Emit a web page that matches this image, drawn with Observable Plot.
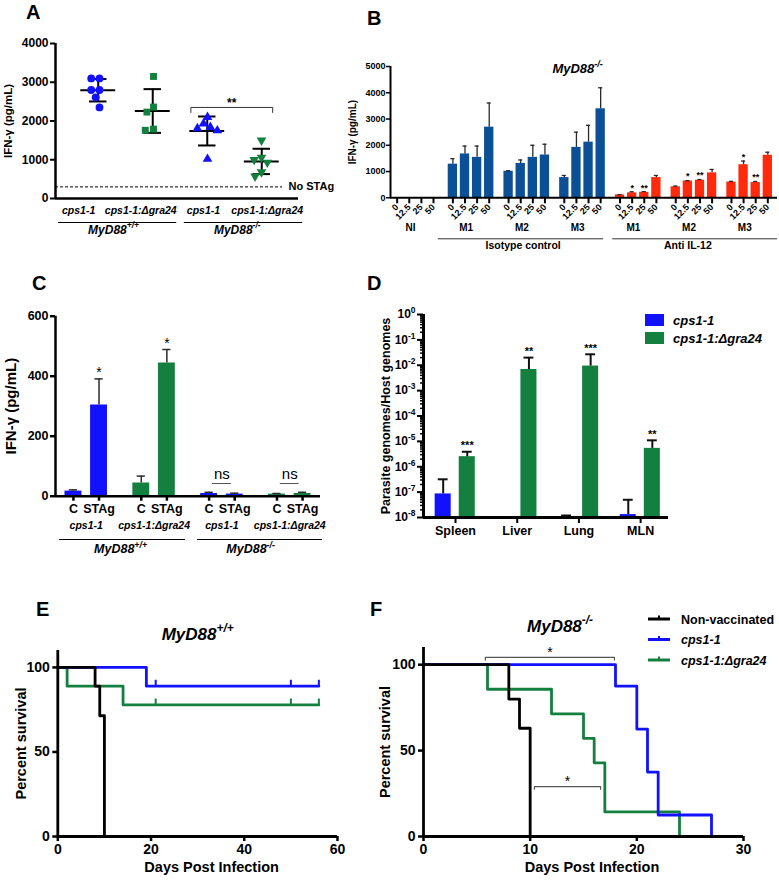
<!DOCTYPE html>
<html>
<head>
<meta charset="utf-8">
<script src="https://cdn.jsdelivr.net/npm/d3@7"></script>
<script src="https://cdn.jsdelivr.net/npm/@observablehq/plot@0.6"></script>
<style>
html, body { margin: 0; padding: 0; background: #fff; }
#fig { position: relative; width: 779px; height: 887px; overflow: hidden; background: #fff; }
</style>
</head>
<body>
<div id="fig"></div>
<script>
// ===================== DATA =====================
// Panel A – IFN-γ, individual mice
const aStrains = ["cps1-1", "cps1-1:Δgra24", "cps1-1", "cps1-1:Δgra24"];
const aHosts = ["MyD88+/+", "MyD88-/-"];
const aWtCps1 = [3100, 3100, 2800, 2800, 2610, 2350];
const aWtGra24 = [3150, 2360, 2230, 1790, 1760];
const aKoCps1 = [2100, 1930, 1840, 1810, 1755, 1020];
const aKoGra24 = [1500, 1060, 1000, 930, 680, 570];
const aNoStag = 300;
const aYTicks = [0, 1000, 2000, 3000, 4000];

// Panel B – IFN-γ by dose, MyD88-/-
const bDoses = ["0", "12.5", "25", "50"];
const bGroups = ["NI", "M1", "M2", "M3", "M1", "M2", "M3"];
const bTreatments = ["Isotype control", "Anti IL-12"];
const bNI = [0, 0, 0, 0];
const bNIErr = [0, 0, 0, 0];
const bIsoM1 = [1280, 1670, 1540, 2690];
const bIsoM1Err = [210, 300, 430, 920];
const bIsoM2 = [1010, 1310, 1540, 1630];
const bIsoM2Err = [20, 130, 460, 410];
const bIsoM3 = [770, 1920, 2120, 3390];
const bIsoM3Err = [80, 580, 640, 800];
const bAntiM1 = [110, 190, 210, 770];
const bAntiM1Err = [10, 40, 25, 80];
const bAntiM2 = [420, 640, 670, 950];
const bAntiM2Err = [25, 15, 25, 130];
const bAntiM3 = [600, 1260, 580, 1620];
const bAntiM3Err = [25, 140, 40, 115];
const bAntiSig = ["", "*", "**", ""];
const bYTicks = [0, 1000, 2000, 3000, 4000, 5000];
const bTitle = "MyD88-/-";

// Panel C – IFN-γ, control vs STAg
const cStrains = ["cps1-1", "cps1-1:Δgra24", "cps1-1", "cps1-1:Δgra24"];
const cHosts = ["MyD88+/+", "MyD88-/-"];
const cConditions = ["C", "STAg"];
const cControl = [17, 44, 9, 7];
const cControlErr = [4, 23, 4, 2];
const cStag = [304, 444, 7, 9];
const cStagErr = [87, 45, 3, 4];
const cSig = ["*", "*", "ns", "ns"];
const cYTicks = [0, 200, 400, 600];

// Panel D – parasite burden (log)
const dOrgans = ["Spleen", "Liver", "Lung", "MLN"];
const dCps1 = [8.5e-8, null, 1.0e-8, 1.3e-8];
const dCps1Top = [3.2e-7, null, 1.2e-8, 5.0e-8];
const dGra24 = [2.5e-6, 6.8e-3, 9.3e-3, 5.3e-6];
const dGra24Top = [3.9e-6, 2.0e-2, 2.7e-2, 1.1e-5];
const dSig = ["***", "**", "***", "**"];
const dLegend = ["cps1-1", "cps1-1:Δgra24"];

// Panel E – survival MyD88+/+
const eNonDays = [0, 8, 9, 10];
const eNonPct = [100, 88.9, 71.4, 0];
const eCps1Days = [0, 19, 56];
const eCps1Pct = [100, 88.9, 88.9];
const eGra24Days = [0, 2, 14, 56];
const eGra24Pct = [100, 88.9, 77.8, 77.8];
const eCensorDays = [21, 50, 56];
const eTitle = "MyD88+/+";

// Panel F – survival MyD88-/-
const fNonDays = [0, 8, 9, 10];
const fNonPct = [100, 80, 63, 0];
const fCps1Days = [0, 18, 20, 21, 22, 27];
const fCps1Pct = [100, 87.5, 62.5, 37.5, 12.5, 0];
const fGra24Days = [0, 6, 12, 15, 16, 17, 24];
const fGra24Pct = [100, 85.7, 71.4, 57.1, 42.9, 14.3, 0];
const fTitle = "MyD88-/-";
const fLegend = ["Non-vaccinated", "cps1-1", "cps1-1:Δgra24"];

// ===================== STYLE / HELPERS =====================
const FONT = "'Liberation Sans', Arial, Helvetica, sans-serif";
const BLUE = "#1111ff";
const GREEN = "#14803f";
const ISO_BLUE = "#0b4f96";
const ANTI_RED = "#ff2a0c";
const ERR = "#2a2a2a";
const NS = "http://www.w3.org/2000/svg";
const fig = document.getElementById("fig");

function baseStyle() {
  return {fontFamily: FONT, fontSize: "12px", fontWeight: "bold", color: "#000", background: "none", overflow: "visible"};
}
const supText = (s) => s.replace(/^(MyD88)(.+)$/, "$1^{$2}");
function supify(root) {
  root.querySelectorAll("text").forEach((t) => {
    if (t.children.length) return;
    const m = t.textContent.match(/^(.*)\^\{(.*)\}$/);
    if (!m) return;
    t.textContent = "";
    const a = document.createElementNS(NS, "tspan");
    a.textContent = m[1];
    const b = document.createElementNS(NS, "tspan");
    b.textContent = m[2];
    b.setAttribute("dy", "-0.6em");
    b.setAttribute("font-size", "70%");
    t.append(a, b);
  });
}
function place(svg, left, top) {
  svg.style.position = "absolute";
  svg.style.left = left + "px";
  svg.style.top = top + "px";
  supify(svg);
  fig.appendChild(svg);
}
// rotated axis title, centred on the frame's left edge
const yTitle = (label, dx, fontSize) =>
  Plot.text([label], {frameAnchor: "left", rotate: -90, textAnchor: "middle", dx, fontSize});

// ===================== PANEL A =====================
const aSeries = [aWtCps1, aWtGra24, aKoCps1, aKoGra24];
const aStats = aSeries.map((v, i) => ({i, mean: d3.mean(v), sd: d3.deviation(v)}));
const aLabelX = [-0.36, 0.78, 1.93, 3.1];
const aPlot = Plot.plot({
  width: 385, height: 245, marginLeft: 55, marginRight: 87, marginTop: 43, marginBottom: 47,
  style: baseStyle(),
  x: {domain: [-0.784, 3.674], axis: null},
  y: {domain: [0, 4000]},
  marks: [
    Plot.ruleY([aNoStag], {strokeDasharray: "3,2", strokeWidth: 1, insetRight: 16}),
    Plot.text(["No STAg"], {y: aNoStag, frameAnchor: "right", dx: -10, textAnchor: "start", fontSize: 11}),
    Plot.axisY({ticks: aYTicks, tickSize: 5, tickPadding: 2, strokeWidth: 2, fontSize: 12, label: null, tickFormat: (d) => String(d)}),
    Plot.ruleX([-0.784], {strokeWidth: 2.5}),
    Plot.ruleY([0], {strokeWidth: 2.5}),
    Plot.ruleX(aStats, {x: "i", y1: (d) => d.mean - d.sd, y2: (d) => d.mean + d.sd, strokeWidth: 2}),
    Plot.ruleY(aStats, {y: "mean", x1: (d) => d.i - 0.32, x2: (d) => d.i + 0.32, strokeWidth: 2}),
    Plot.ruleY(aStats, {y: (d) => d.mean + d.sd, x1: (d) => d.i - 0.16, x2: (d) => d.i + 0.16, strokeWidth: 2}),
    Plot.ruleY(aStats, {y: (d) => d.mean - d.sd, x1: (d) => d.i - 0.16, x2: (d) => d.i + 0.16, strokeWidth: 2}),
    Plot.line([[1.7, 2220], [1.7, 2350], [3.2, 2350], [3.2, 2220]], {strokeWidth: 1, stroke: "#333"}),
    Plot.text(["**"], {x: 2.45, y: 2350, dy: -4, fontSize: 12}),
    Plot.text(aStrains, {x: (d, i) => aLabelX[i], frameAnchor: "bottom", dy: 15, fontStyle: "italic", fontSize: 10.5}),
    Plot.ruleY([{x1: -0.73, x2: 1.44}, {x1: 1.58, x2: 3.75}], {y: 0, dy: 24, x1: "x1", x2: "x2", strokeWidth: 1.2}),
    Plot.text(aHosts.map(supText), {x: (d, i) => [0.28, 2.55][i], frameAnchor: "bottom", dy: 35, fontStyle: "italic", fontSize: 12}),
    yTitle("IFN-γ (pg/mL)", -47, 11.5)
  ]
});
place(aPlot, 0, 0);

const aSym = [
  {symbol: "circle", fill: BLUE, rotate: 0, r: 3.9},
  {symbol: "square", fill: GREEN, rotate: 0, r: 3.9},
  {symbol: "triangle", fill: BLUE, rotate: 0, r: 3.6},
  {symbol: "triangle", fill: GREEN, rotate: 180, r: 3.6}
];
const aDots = Plot.plot({
  width: 385, height: 245, marginLeft: 70.5, marginRight: 96.5, marginTop: 43, marginBottom: 47,
  style: baseStyle(),
  fx: {domain: [0, 1, 2, 3], padding: 0, axis: null},
  x: {axis: null},
  y: {domain: [0, 4000], axis: null},
  marks: aSeries.map((v, i) => Plot.dot(v, Plot.dodgeX({anchor: "middle", padding: 0.5},
    {fx: () => i, y: (d) => d, r: aSym[i].r, symbol: aSym[i].symbol, fill: aSym[i].fill, rotate: aSym[i].rotate})))
});
place(aDots, 0, 0);

// ===================== PANEL B =====================
const bSeries = [bNI, bIsoM1, bIsoM2, bIsoM3, bAntiM1, bAntiM2, bAntiM3];
const bErrSeries = [bNIErr, bIsoM1Err, bIsoM2Err, bIsoM3Err, bAntiM1Err, bAntiM2Err, bAntiM3Err];
const B_STRIDE = 4.6;
const bBars = bSeries.flatMap((vals, gi) => vals.map((v, di) => ({
  gi, pos: gi * B_STRIDE + di, dose: bDoses[di], value: v, err: bErrSeries[gi][di],
  anti: gi >= 4, sig: gi >= 4 ? bAntiSig[di] : ""
})));
const bErrBars = bBars.filter((d) => d.value > 0);
const bRect = (data, fill) => Plot.rect(data, {x1: (d) => d.pos - 0.385, x2: (d) => d.pos + 0.385, y1: 0, y2: "value", fill});
const bPlot = Plot.plot({
  width: 439, height: 265, marginLeft: 50, marginRight: 2, marginTop: 66, marginBottom: 67.7,
  style: baseStyle(),
  x: {domain: [-0.55, 31.4]},
  y: {domain: [0, 5000]},
  marks: [
    bRect(bBars.filter((d) => !d.anti && d.value > 0), ISO_BLUE),
    bRect(bBars.filter((d) => d.anti), ANTI_RED),
    Plot.ruleX(bErrBars, {x: "pos", y1: "value", y2: (d) => d.value + d.err, stroke: ERR, strokeWidth: 1.3}),
    Plot.ruleY(bErrBars, {y: (d) => d.value + d.err, x1: (d) => d.pos - 0.17, x2: (d) => d.pos + 0.17, stroke: ERR, strokeWidth: 1.3}),
    Plot.text(bBars.filter((d) => d.sig), {x: "pos", y: (d) => d.value + d.err, text: "sig", dy: -4, fontSize: 9}),
    Plot.axisY({ticks: bYTicks, tickSize: 4, tickPadding: 1, fontSize: 9, strokeWidth: 1.5, label: null, tickFormat: (d) => String(d)}),
    Plot.axisX({ticks: bBars.map((d) => d.pos), tickSize: 6, strokeWidth: 2, label: null, tickFormat: () => ""}),
    Plot.ruleX([-0.55], {strokeWidth: 2}),
    Plot.ruleY([0], {strokeWidth: 2}),
    Plot.text(bBars, {x: "pos", text: "dose", frameAnchor: "bottom", rotate: -45, textAnchor: "end", dx: 2, dy: 10, fontSize: 9}),
    Plot.text(bGroups, {x: (d, i) => i * B_STRIDE + 1.1, frameAnchor: "bottom", dy: 33, fontSize: 10}),
    Plot.ruleY([{x1: 3.4, x2: 17.05}, {x1: 17.8, x2: 31.4}], {y: 0, dy: 41, x1: "x1", x2: "x2", strokeWidth: 1, stroke: "#333"}),
    Plot.text(bTreatments, {x: (d, i) => [10.4, 24][i], frameAnchor: "bottom", dy: 51, fontSize: 10.5}),
    Plot.text([supText(bTitle)], {x: 14.9, frameAnchor: "top", dy: -3, fontStyle: "italic", fontSize: 13}),
    yTitle("IFN-γ (pg/mL)", -38, 10)
  ]
});
place(bPlot, 340, 0);

// ===================== PANEL C =====================
const C_STRIDE = 2.65;
const strainColor = (s) => (s === "cps1-1" ? BLUE : GREEN);
const cBars = cStrains.flatMap((s, gi) => [
  {gi, pos: gi * C_STRIDE, cond: cConditions[0], value: cControl[gi], err: cControlErr[gi], color: strainColor(s), sig: ""},
  {gi, pos: gi * C_STRIDE + 1, cond: cConditions[1], value: cStag[gi], err: cStagErr[gi], color: strainColor(s), sig: cSig[gi] === "*" ? "*" : ""}
]);
const cNs = cStrains.map((s, gi) => ({c: gi * C_STRIDE + 0.5, sig: cSig[gi]})).filter((d) => d.sig === "ns");
const cRect = (color) => Plot.rect(cBars.filter((d) => d.color === color),
  {x1: (d) => d.pos - 0.33, x2: (d) => d.pos + 0.33, y1: 0, y2: "value", fill: color});
const cPlot = Plot.plot({
  width: 385, height: 295, marginLeft: 55, marginRight: 65, marginTop: 45.7, marginBottom: 69.3,
  style: baseStyle(),
  x: {domain: [-0.7, 9.65]},
  y: {domain: [0, 600]},
  marks: [
    cRect(BLUE), cRect(GREEN),
    Plot.ruleX(cBars, {x: "pos", y1: "value", y2: (d) => d.value + d.err, stroke: ERR, strokeWidth: 1.5}),
    Plot.ruleY(cBars, {y: (d) => d.value + d.err, x1: (d) => d.pos - 0.16, x2: (d) => d.pos + 0.16, stroke: ERR, strokeWidth: 1.5}),
    Plot.text(cBars.filter((d) => d.sig), {x: "pos", y: (d) => d.value + d.err, text: "sig", dy: -6, fontSize: 14, fontWeight: "normal"}),
    Plot.text(cNs, {x: "c", y: 0, text: "sig", dy: -21.6, fontSize: 15, fontWeight: "normal"}),
    Plot.ruleY(cNs, {y: 0, dy: -12.7, x1: (d) => d.c - 0.37, x2: (d) => d.c + 0.37, stroke: "#555", strokeWidth: 1}),
    Plot.axisY({ticks: cYTicks, tickSize: 5, tickPadding: 2, fontSize: 12.5, strokeWidth: 2.5, label: null, tickFormat: (d) => String(d)}),
    Plot.axisX({ticks: cBars.map((d) => d.pos), tickSize: 5, strokeWidth: 2.5, label: null, tickFormat: () => ""}),
    Plot.ruleX([-0.7], {strokeWidth: 2.5}),
    Plot.ruleY([0], {strokeWidth: 2.5}),
    Plot.text(cBars, {x: "pos", text: "cond", frameAnchor: "bottom", dy: 16.6, fontSize: 12.5}),
    Plot.text(cStrains, {x: (d, i) => i * C_STRIDE + 0.5, frameAnchor: "bottom", dy: 32.6, fontStyle: "italic", fontSize: 10.5}),
    Plot.ruleY([{x1: -0.54, x2: 4.38}, {x1: 4.85, x2: 9.73}], {y: 0, dy: 43.3, x1: "x1", x2: "x2", strokeWidth: 1.2}),
    Plot.text(cHosts.map(supText), {x: (d, i) => [1.84, 6.92][i], frameAnchor: "bottom", dy: 57, fontStyle: "italic", fontSize: 12.5}),
    yTitle("IFN-γ (pg/mL)", -44.5, 15)
  ]
});
place(cPlot, 0, 270);

// ===================== PANEL D =====================
const dBars = dOrgans.flatMap((o, gi) => [
  dCps1[gi] == null ? null : {gi, pos: gi - 0.2, value: dCps1[gi], top: dCps1Top[gi], color: BLUE, sig: ""},
  {gi, pos: gi + 0.19, value: dGra24[gi], top: dGra24Top[gi], color: GREEN, sig: dSig[gi]}
]).filter(Boolean);
const dMajor = d3.range(-8, 1).map((e) => 10 ** e);
const dMinor = d3.range(-8, 0).flatMap((e) => d3.range(2, 10).map((m) => m * 10 ** e));
const dRect = (color) => Plot.rect(dBars.filter((d) => d.color === color),
  {x1: (d) => d.pos - 0.13, x2: (d) => d.pos + 0.13, y1: 1e-8, y2: "value", fill: color});
const dPlot = Plot.plot({
  width: 439, height: 285, marginLeft: 83, marginRight: 111, marginTop: 44, marginBottom: 38,
  style: baseStyle(),
  x: {domain: [-0.519, 3.452]},
  y: {type: "log", domain: [1e-8, 1]},
  marks: [
    dRect(BLUE), dRect(GREEN),
    Plot.ruleX(dBars, {x: "pos", y1: "value", y2: "top", stroke: "#111", strokeWidth: 2}),
    Plot.ruleY(dBars, {y: "top", x1: (d) => d.pos - 0.08, x2: (d) => d.pos + 0.08, stroke: "#111", strokeWidth: 2}),
    Plot.text(dBars.filter((d) => d.sig), {x: "pos", y: "top", text: "sig", dy: -6, fontSize: 11}),
    Plot.axisY({ticks: dMajor, tickSize: 6, tickPadding: 2, fontSize: 12, strokeWidth: 2, label: null,
      tickFormat: (d) => "10^{" + Math.round(Math.log10(d)) + "}"}),
    Plot.axisY({ticks: dMinor, tickSize: 3, strokeWidth: 1.5, label: null, tickFormat: () => ""}),
    Plot.axisX({ticks: [0, 1, 2, 3], tickSize: 6, tickPadding: 3, strokeWidth: 2, fontSize: 12.5, label: null,
      tickFormat: (i) => dOrgans[i]}),
    Plot.ruleX([-0.519], {strokeWidth: 3}),
    Plot.ruleY([1e-8], {strokeWidth: 3}),
    yTitle("Parasite genomes/Host genomes", -38, 12.5)
  ]
});
place(dPlot, 340, 270);

// ===================== PANELS E & F =====================
const survAt = (days, pct, t) => pct[d3.bisectRight(days, t) - 1];
const stepLine = (days, pct, color) =>
  Plot.line(days.map((t, i) => ({t, p: pct[i]})), {x: "t", y: "p", curve: "step-after", stroke: color, strokeWidth: 2.8});
const censor = (days, pct, color) =>
  Plot.ruleX(eCensorDays, {x: (d) => d, y1: (d) => survAt(days, pct, d), y2: (d) => survAt(days, pct, d) + 3.5, stroke: color, strokeWidth: 2});

const ePlot = Plot.plot({
  width: 385, height: 297, marginLeft: 57.3, marginRight: 48, marginTop: 60, marginBottom: 51,
  style: baseStyle(),
  x: {domain: [0, 60]},
  y: {domain: [0, 110]},
  marks: [
    stepLine(eGra24Days, eGra24Pct, GREEN),
    stepLine(eCps1Days, eCps1Pct, BLUE),
    stepLine(eNonDays, eNonPct, "#000"),
    censor(eGra24Days, eGra24Pct, GREEN),
    censor(eCps1Days, eCps1Pct, BLUE),
    Plot.axisY({ticks: [0, 50, 100], tickSize: 5, tickPadding: 3, fontSize: 14, strokeWidth: 2.5, label: null}),
    Plot.axisX({ticks: [0, 20, 40, 60], tickSize: 5, tickPadding: 3, fontSize: 14, strokeWidth: 2.5, label: null}),
    Plot.ruleX([0], {strokeWidth: 2.8}),
    Plot.ruleY([0], {strokeWidth: 2.8}),
    Plot.text(["Days Post Infection"], {x: 33, frameAnchor: "bottom", dy: 35, fontSize: 14.5}),
    yTitle("Percent survival", -36, 14.5),
    Plot.text([supText(eTitle)], {x: 30, frameAnchor: "top", dy: -23, fontStyle: "italic", fontSize: 17})
  ]
});
place(ePlot, 0, 590);

const fBrackets = [{x1: 5.8, x2: 17.9, y: 104.2}, {x1: 10.4, x2: 16.6, y: 29}];
const fPlot = Plot.plot({
  width: 439, height: 297, marginLeft: 83, marginRight: 36, marginTop: 57, marginBottom: 51,
  style: baseStyle(),
  x: {domain: [0, 30]},
  y: {domain: [0, 110]},
  marks: [
    stepLine(fGra24Days, fGra24Pct, GREEN),
    stepLine(fCps1Days, fCps1Pct, BLUE),
    stepLine(fNonDays, fNonPct, "#000"),
    ...fBrackets.map((b) => Plot.line([[b.x1, b.y - 1.5], [b.x1, b.y], [b.x2, b.y], [b.x2, b.y - 1.5]], {stroke: "#555", strokeWidth: 1.2})),
    Plot.text(fBrackets, {x: (b) => (b.x1 + b.x2) / 2, y: "y", text: () => "*", dy: -5, fontSize: 14, fontWeight: "normal"}),
    Plot.axisY({ticks: [0, 50, 100], tickSize: 5, tickPadding: 3, fontSize: 14, strokeWidth: 2.5, label: null}),
    Plot.axisX({ticks: [0, 10, 20, 30], tickSize: 5, tickPadding: 3, fontSize: 14, strokeWidth: 2.5, label: null}),
    Plot.ruleX([0], {strokeWidth: 2.8}),
    Plot.ruleY([0], {strokeWidth: 2.8}),
    Plot.text(["Days Post Infection"], {x: 15.8, frameAnchor: "bottom", dy: 35, fontSize: 14.5}),
    yTitle("Percent survival", -38, 14.5),
    Plot.text([supText(fTitle)], {x: 12.8, frameAnchor: "top", dy: -28, fontStyle: "italic", fontSize: 17})
  ]
});
place(fPlot, 340, 590);

// ===================== PANEL LETTERS & LEGENDS =====================
const ov = d3.create("svg").attr("width", 779).attr("height", 887)
  .attr("style", "position:absolute;left:0;top:0;overflow:visible")
  .attr("font-family", FONT).attr("font-weight", "bold");
[["A", 26, 19], ["B", 367, 25], ["C", 32, 290], ["D", 367, 290], ["E", 36, 616], ["F", 370, 616]]
  .forEach(([t, x, y]) => ov.append("text").attr("x", x).attr("y", y).attr("font-size", 20).text(t));

const dLegColors = [BLUE, GREEN];
dLegend.forEach((label, i) => {
  ov.append("rect").attr("x", 645).attr("y", 314 + i * 18).attr("width", 19).attr("height", 12).attr("fill", dLegColors[i]);
  ov.append("text").attr("x", 673).attr("y", 324.5 + i * 18).attr("font-size", 13).attr("font-style", "italic").text(label);
});

const fLegColors = ["#000", BLUE, GREEN];
fLegend.forEach((label, i) => {
  const y = 619 + i * 20.5;
  ov.append("line").attr("x1", 648).attr("x2", 670).attr("y1", y).attr("y2", y).attr("stroke", fLegColors[i]).attr("stroke-width", 3);
  ov.append("line").attr("x1", 659).attr("x2", 659).attr("y1", y - 3.5).attr("y2", y).attr("stroke", fLegColors[i]).attr("stroke-width", 2);
  ov.append("text").attr("x", 681).attr("y", y + 4.5).attr("font-size", 12.5)
    .attr("font-style", i === 0 ? "normal" : "italic").text(label);
});
fig.appendChild(ov.node());
</script>
</body>
</html>
